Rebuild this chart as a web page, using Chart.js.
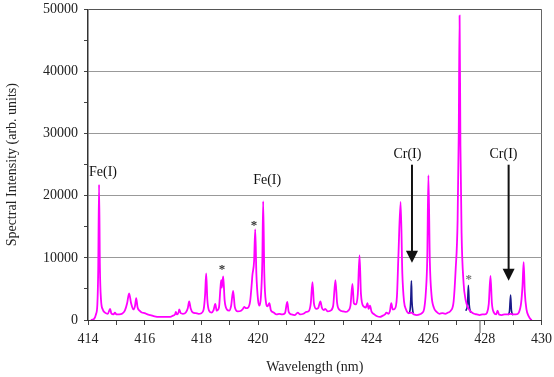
<!DOCTYPE html>
<html>
<head>
<meta charset="utf-8">
<script src="https://cdn.jsdelivr.net/npm/chart.js@4.4.1/dist/chart.umd.min.js"></script>
<style>
  html, body { margin: 0; padding: 0; background: #fff; overflow: hidden; }
  #chart-spectrum { display: block; margin-top: -5px; }
</style>
</head>
<body>
<canvas id="chart-spectrum" width="558" height="385"></canvas>
<script>
// magenta spectrum, wavelength (nm) / intensity (arb. units)
var wavelength = [
  414.10, 414.20, 414.28, 414.33, 414.36, 414.39, 414.42, 414.46, 414.52, 414.60,
  414.70, 414.78, 414.82, 414.90, 414.95, 415.00, 415.10, 415.20, 415.30, 415.38,
  415.45, 415.52, 415.60, 415.66, 415.70, 415.75, 415.82, 415.90, 416.00, 416.10,
  416.20, 416.35, 416.50, 416.70, 416.90, 417.00, 417.07, 417.10, 417.14, 417.20,
  417.22, 417.27, 417.35, 417.45, 417.52, 417.57, 417.62, 417.70, 417.80, 417.90,
  418.00, 418.08, 418.13, 418.17, 418.21, 418.27, 418.35, 418.43, 418.49, 418.54,
  418.62, 418.67, 418.70, 418.72, 418.77, 418.82, 418.90, 418.98, 419.05, 419.12,
  419.18, 419.28, 419.40, 419.47, 419.51, 419.58, 419.65, 419.72, 419.78, 419.80,
  419.86, 419.90, 419.94, 420.00, 420.05, 420.10, 420.15, 420.18, 420.22, 420.28,
  420.33, 420.40, 420.45, 420.55, 420.65, 420.75, 420.85, 420.95, 421.03, 421.08,
  421.18, 421.30, 421.40, 421.48, 421.60, 421.70, 421.80, 421.86, 421.92, 421.97,
  422.05, 422.12, 422.20, 422.25, 422.32, 422.37, 422.45, 422.55, 422.65, 422.73,
  422.79, 422.88, 422.98, 423.08, 423.18, 423.26, 423.33, 423.38, 423.45, 423.52,
  423.58, 423.63, 423.72, 423.80, 423.86, 423.90, 423.95, 424.00, 424.10, 424.20,
  424.30, 424.40, 424.48, 424.53, 424.60, 424.65, 424.70, 424.75, 424.82, 424.90,
  424.95, 425.03, 425.09, 425.15, 425.22, 425.32, 425.41, 425.50, 425.60, 425.70,
  425.78, 425.86, 425.92, 425.97, 426.01, 426.06, 426.12, 426.20, 426.30, 426.40,
  426.50, 426.60, 426.70, 426.80, 426.90, 426.97, 427.04, 427.08, 427.11, 427.14,
  427.18, 427.25, 427.32, 427.43, 427.52, 427.62, 427.72, 427.82, 427.92, 428.00,
  428.08, 428.14, 428.20, 428.25, 428.32, 428.40, 428.45, 428.50, 428.60, 428.70,
  428.80, 428.91, 429.00, 429.10, 429.20, 429.28, 429.33, 429.37, 429.41, 429.47,
  429.55, 429.62, 429.66
];
var intensity = [
  0, 100, 900, 2500, 8000, 21800, 8500, 3200, 1700, 1200,
  1000, 1800, 1100, 900, 1200, 900, 900, 1000, 1500, 2700,
  4300, 2700, 1700, 2300, 3500, 2000, 1500, 1200, 1100, 900,
  800, 600, 500, 500, 500, 700, 900, 1300, 900, 1300,
  1700, 1100, 1000, 1200, 1900, 3000, 1900, 1200, 1100, 1000,
  1100, 1700, 4000, 7500, 3300, 1500, 1200, 1600, 2600, 1500,
  2000, 5000, 6400, 5200, 7000, 3200, 1700, 1500, 2300, 4700,
  2100, 1400, 1500, 1800, 2100, 1900, 2000, 3000, 6000, 7200,
  9500, 14600, 7500, 3200, 2300, 3700, 9500, 19100, 7500, 2800,
  2200, 2700, 1600, 1200, 900, 1000, 900, 1100, 2900, 1300,
  900, 800, 1200, 900, 1000, 1300, 1500, 2700, 6100, 2700,
  1800, 1900, 3000, 2000, 1600, 1800, 1400, 1500, 2300, 6400,
  2700, 1600, 1400, 1300, 1500, 2300, 5800, 2700, 2500, 4200,
  10400, 4200, 2200, 2000, 2700, 1800, 2300, 1400, 900, 600,
  500, 700, 900, 1200, 1000, 1400, 2700, 1700, 1800, 3800,
  10100, 19000, 7500, 3000, 1700, 1100, 1200, 900, 800, 900,
  1100, 1800, 4500, 10000, 23300, 9500, 4000, 2000, 1300, 1000,
  1100, 1000, 1200, 1500, 3000, 8000, 16000, 30000, 49000, 28000,
  14000, 6000, 3300, 1800, 1300, 1000, 900, 800, 900, 900,
  1200, 2600, 7100, 2700, 1200, 900, 1500, 900, 800, 900,
  900, 1000, 900, 900, 1200, 2700, 5500, 9300, 4500, 1700,
  600, 100, 0
];

// navy spectrum, only where it shows (null = gap)
var blueWavelength = [
  425.30, 425.36, 425.39, 425.41, 425.43, 425.47, 426.50,
  427.33, 427.39, 427.42, 427.45, 427.50, 428.50,
  428.82, 428.87, 428.91, 428.94, 429.00
];
var blueIntensity = [
  1000, 1500, 3500, 6300, 3000, 1100, null,
  1500, 2500, 5600, 2500, 1200, null,
  800, 1400, 4000, 1500, 800
];

// annotations in data coordinates
var labels = [
  { text: 'Fe(I)', x: 414.53, y: 23800 },
  { text: 'Fe(I)', x: 420.32, y: 22500 },
  { text: 'Cr(I)', x: 425.27, y: 26600 },
  { text: 'Cr(I)', x: 428.66, y: 26600 }
];
var arrows = [
  { x: 425.43, from: 25000, to: 9200 },
  { x: 428.84, from: 25000, to: 6300 }
];
var stars = [
  { x: 418.73, y: 8500, color: '#333' },
  { x: 419.86, y: 15500, color: '#333' },
  { x: 427.43, y: 6800, color: '#777' }
];

function toPoints(xs, ys) {
  return xs.map(function (x, i) { return { x: x, y: ys[i] }; });
}

var serif = '"Liberation Serif", "Times New Roman", serif';

var annotate = {
  id: 'annotate',
  afterDatasetsDraw: function (chart) {
    var c = chart.ctx, xs = chart.scales.x, ys = chart.scales.y;
    c.save();
    c.font = '14px ' + serif;
    c.fillStyle = '#111';
    c.textAlign = 'center';
    c.textBaseline = 'middle';
    labels.forEach(function (l) {
      c.fillText(l.text, xs.getPixelForValue(l.x), ys.getPixelForValue(l.y));
    });
    arrows.forEach(function (a) {
      var px = xs.getPixelForValue(a.x);
      var y0 = ys.getPixelForValue(a.from), y1 = ys.getPixelForValue(a.to);
      c.strokeStyle = '#111';
      c.lineWidth = 2;
      c.beginPath();
      c.moveTo(px, y0);
      c.lineTo(px, y1 - 10);
      c.stroke();
      c.beginPath();
      c.moveTo(px - 6, y1 - 12);
      c.lineTo(px + 6, y1 - 12);
      c.lineTo(px, y1);
      c.closePath();
      c.fill();
    });
    c.font = 'bold 13px ' + serif;
    stars.forEach(function (s) {
      c.fillStyle = s.color;
      c.fillText('*', xs.getPixelForValue(s.x), ys.getPixelForValue(s.y) + 2);
    });
    // stray tick below the axis near 427.83
    var sx = xs.getPixelForValue(427.83), sy = ys.getPixelForValue(0);
    c.strokeStyle = '#555';
    c.lineWidth = 1;
    c.beginPath();
    c.moveTo(sx, sy);
    c.lineTo(sx, sy + 13);
    c.stroke();
    c.restore();
  }
};

var ctx = document.getElementById('chart-spectrum');
new Chart(ctx, {
  type: 'line',
  data: {
    datasets: [{
      label: 'spectrum',
      data: toPoints(wavelength, intensity),
      borderColor: '#ff00ff',
      borderWidth: 1.8,
      pointRadius: 0,
      fill: false,
      cubicInterpolationMode: 'monotone'
    },
    {
      label: 'spectrum 2',
      data: toPoints(blueWavelength, blueIntensity),
      borderColor: '#1a1a8a',
      borderWidth: 1.6,
      pointRadius: 0,
      fill: false,
      spanGaps: false,
      cubicInterpolationMode: 'monotone'
    }]
  },
  plugins: [annotate],
  options: {
    responsive: false,
    animation: false,
    devicePixelRatio: 1,
    layout: { padding: { top: 4, right: 10, left: 0, bottom: 0 } },
    plugins: { legend: { display: false }, tooltip: { enabled: false } },
    scales: {
      x: {
        type: 'linear',
        min: 414,
        max: 430,
        afterFit: function (s) { s.height = 60; },
        ticks: {
          stepSize: 1,
          autoSkip: false,
          maxRotation: 0,
          color: '#222',
          font: { family: serif, size: 14 },
          padding: 6,
          callback: function (v) { return v % 2 === 0 ? v : ''; }
        },
        grid: {
          color: function (c) { return c.tick && c.tick.value === 430 ? '#666' : 'rgba(0,0,0,0)'; },
          tickColor: '#444',
          tickLength: 5
        },
        border: { color: '#333', width: 1 },
        title: {
          display: true,
          text: 'Wavelength (nm)',
          color: '#222',
          font: { family: serif, size: 14 },
          padding: { top: 11 }
        }
      },
      y: {
        min: 0,
        max: 50000,
        afterFit: function (s) { s.width = 88; },
        ticks: {
          stepSize: 5000,
          color: '#222',
          font: { family: serif, size: 14 },
          padding: 6,
          callback: function (v) { return v % 10000 === 0 ? v : ''; }
        },
        grid: {
          color: function (c) {
            if (!c.tick) return 'rgba(0,0,0,0)';
            if (c.tick.value === 50000) return '#555';
            return c.tick.value % 10000 === 0 ? '#999' : 'rgba(0,0,0,0)';
          },
          tickColor: '#444',
          tickLength: 4
        },
        border: { color: '#333', width: 1.5 },
        title: {
          display: true,
          text: 'Spectral Intensity (arb. units)',
          color: '#222',
          font: { family: serif, size: 14 },
          padding: { bottom: 4 }
        }
      }
    }
  }
});
</script>
</body>
</html>
